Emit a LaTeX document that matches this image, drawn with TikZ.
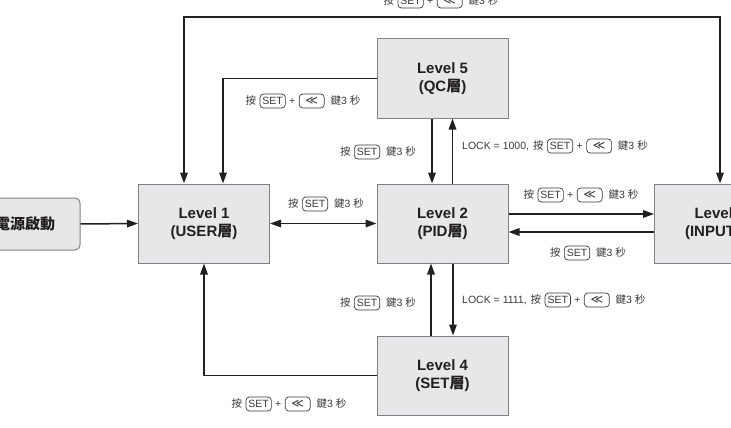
\documentclass[tikz,border=0pt]{standalone}
\usepackage{fontspec}
\setmainfont{Liberation Sans}
\newfontfamily\cjk{Noto Sans CJK TC}
\newfontfamily\sym{DejaVu Sans}
\usetikzlibrary{arrows.meta}
\definecolor{boxfill}{HTML}{E6E7E8}
\definecolor{boxline}{HTML}{808285}
\definecolor{ink}{HTML}{231F20}
\definecolor{labink}{HTML}{3A3A3A}
\newcommand\kb[1]{\tikz[baseline=(kbn.base)]\node[draw=labink,line width=0.7pt,rounded corners=3.5pt,inner xsep=2.5pt,inner ysep=0pt,minimum height=14pt,minimum width=25pt](kbn){#1};}
\newcommand\kA{{\cjk 按}\hspace{3.5pt}\kb{SET}\hspace{3.5pt}+\hspace{3.5pt}\kb{\sym\fontsize{12}{12}\selectfont ≪}\hspace{6pt}{\cjk 鍵}3\hspace{3pt}{\cjk 秒}}
\newcommand\kB{{\cjk 按}\hspace{3.5pt}\kb{SET}\hspace{6pt}{\cjk 鍵}3\hspace{3pt}{\cjk 秒}}
\begin{document}
\begin{tikzpicture}[x=1pt,y=-1pt,
  lab/.style={font=\fontsize{10.5}{11}\selectfont,text=labink,inner sep=0pt},
  lvl/.style={draw=boxline,fill=boxfill,line width=1pt,minimum width=131pt,minimum height=79pt,align=center,font=\fontsize{15}{18}\selectfont\bfseries,text=ink},
  conn/.style={draw=ink,line width=1.5pt},
  arr/.style={-{Triangle[length=11pt,width=7.5pt]}},
  darr/.style={{Triangle[length=11pt,width=7.5pt]}-{Triangle[length=11pt,width=7.5pt]}}]
\clip (0,0) rectangle (731,428);
\fill[white] (0,0) rectangle (731,428);
% boxes
\node[lvl,minimum width=110pt,minimum height=52pt,rounded corners=5pt] (pw) at (25,224) {\cjk 電源啟動};
\node[lvl] (L1) at (204,223.5) {Level 1\\(USER{\cjk 層})};
\node[lvl] (L2) at (442.5,223.5) {Level 2\\(PID{\cjk 層})};
\node[lvl] (L3) at (720,223.5) {Level 3\\(INPUT{\cjk 層})};
\node[lvl] (L5) at (442.5,78.5) {Level 5\\(QC{\cjk 層})};
\node[lvl] (L4) at (442.5,375.5) {Level 4\\(SET{\cjk 層})};
\coordinate (topy) at (0,17);
% connectors
\draw[conn,arr] (pw.east) -- (L1.west);
\draw[conn,darr] (L1.east) -- (L2.west);
\draw[conn,arr] ([yshift=9.5pt]L2.east) -- ([yshift=9.5pt]L3.west);
\draw[conn,arr] ([yshift=-8.5pt]L3.west) -- ([yshift=-8.5pt]L2.east);
\draw[conn,arr] ([xshift=-10.5pt]L5.south) -- ([xshift=-10.5pt]L2.north);
\draw[conn,arr] ([xshift=10pt]L2.north) -- ([xshift=10pt]L5.south);
\draw[conn,arr] ([xshift=-11.5pt]L4.north) -- ([xshift=-11.5pt]L2.south);
\draw[conn,arr] ([xshift=10.5pt]L2.south) -- ([xshift=10.5pt]L4.north);
\draw[conn,arr] (L5.west) -| ([xshift=19pt]L1.north);
\draw[conn,arr] (L4.west) -| (L1.south);
\draw[conn,darr] ([xshift=-20pt]L1.north) -- ([xshift=-20pt]L1.north |- topy) -| (L3.north);
% labels
\node[lab] (t1) at (441,1) {\kA};
\node[lab] (t2) at (303,101) {\kA};
\node[lab] (t3) at (378,152) {\kB};
\node[lab,anchor=west] (t4) at (462,146) {LOCK = 1000,\hspace{4pt}\kA};
\node[lab] (t5) at (326,204) {\kB};
\node[lab] (t6) at (581,195) {\kA};
\node[lab] (t7) at (588,253) {\kB};
\node[lab] (t8) at (378,303) {\kB};
\node[lab,anchor=west] (t9) at (462,300) {LOCK = 1111,\hspace{4pt}\kA};
\node[lab] (t10) at (289,404) {\kA};
\end{tikzpicture}
\end{document}
